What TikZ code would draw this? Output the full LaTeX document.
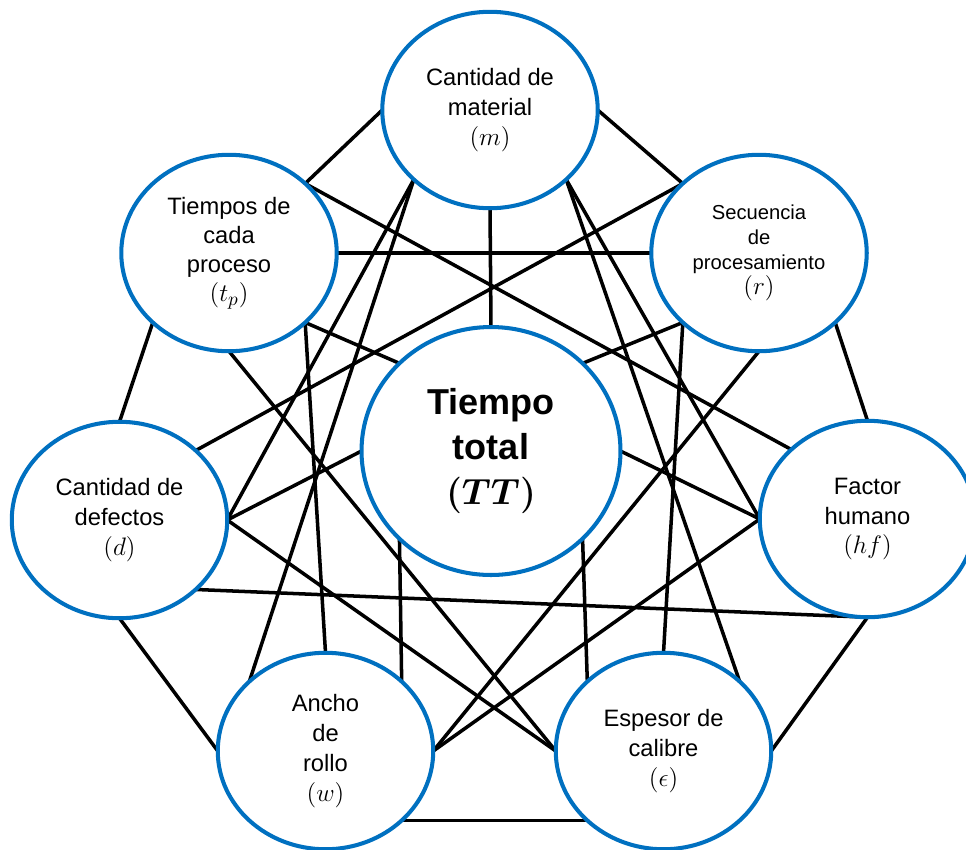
\documentclass[tikz,border=0pt]{standalone}
\usepackage{bm}
\usepackage{fontspec}
\setmainfont{Liberation Sans}
\usetikzlibrary{shapes.geometric,backgrounds}
\definecolor{ringblue}{RGB}{0,112,192}
% symbol line under each label, set a little larger than the words
\newcommand{\symline}[1]{{\fontsize{15.5}{17}\selectfont$#1$}}
\begin{document}
\begin{tikzpicture}[x=0.02cm,y=-0.02cm,
  bub/.style={ellipse,draw=ringblue,line width=2.3pt,fill=white,
    inner sep=0pt,outer sep=0pt,minimum width=4.31cm,minimum height=3.93cm,
    align=center,font=\fontsize{13.5}{17}\selectfont},
  hub/.style={bub,minimum width=5.18cm,minimum height=4.96cm,
    font=\fontsize{20.5}{25.5}\selectfont\bfseries},
  link/.style={line width=2pt,black}]
\useasboundingbox (0,0) rectangle (966,849);

% factors around the central node
\node[bub] (m)  at (490,110)   {Cantidad de\\material\\\symline{(m)}};
\node[bub,font=\fontsize{13.5}{16.5}\selectfont] (tp) at (229,253) {Tiempos de\\cada\\proceso\\\symline{(t_p)}};
\node[bub,font=\fontsize{11.5}{14.2}\selectfont] (r) at (759,253) {Secuencia\\de\\procesamiento\\\symline{(r)}};
\node[bub] (d)  at (119.5,520) {Cantidad de\\defectos\\\symline{(d)}};
\node[bub] (hf) at (867.5,519) {Factor\\humano\\\symline{(hf)}};
\node[bub] (w)  at (325.5,751) {Ancho\\de\\rollo\\\symline{(w)}};
\node[bub] (e)  at (663.5,751) {Espesor de\\calibre\\\symline{(\epsilon)}};
\node[hub] (tt) at (491,451)   {Tiempo\\total\\{\fontsize{22}{25.5}\selectfont$\bm{(TT)}$}};

% every pair of nodes is linked
\begin{pgfonlayer}{background}
\draw[link] (m.west) -- (tp.north east);
\draw[link] (m.east) -- (r.north west);
\draw[link] (m.south) -- (tt.north);
\draw[link] (m.south west) -- (d.east);
\draw[link] (m.south west) -- (w.north west);
\draw[link] (m.south east) -- (hf.west);
\draw[link] (m.south east) -- (e.north east);
\draw[link] (tp.north east) -- (hf.north west);
\draw[link] (r.north west) -- (d.north east);
\draw[link] (tp.east) -- (r.west);
\draw[link] (tp.south west) -- (d.north);
\draw[link] (tp.south) -- (e.west);
\draw[link] (tp.south east) -- (tt.north west);
\draw[link] (tp.south east) -- (w.north);
\draw[link] (d.east) -- (tt.west);
\draw[link] (d.east) -- (e.west);
\draw[link] (d.south east) -- (hf.south);
\draw[link] (hf.south) -- (e.east);
\draw[link] (d.south) -- (w.west);
\draw[link] (w.south east) -- (e.south west);
\draw[link] (w.east) -- (r.south);
\draw[link] (w.east) -- (hf.west);
\draw[link] (tt.south west) -- (w.north east);
\draw[link] (tt.south east) -- (e.north west);
\draw[link] (tt.east) -- (hf.west);
\draw[link] (tt.north east) -- (r.south west);
\draw[link] (r.south west) -- (e.north);
\draw[link] (r.south east) -- (hf.north);
\end{pgfonlayer}
\end{tikzpicture}
\end{document}
